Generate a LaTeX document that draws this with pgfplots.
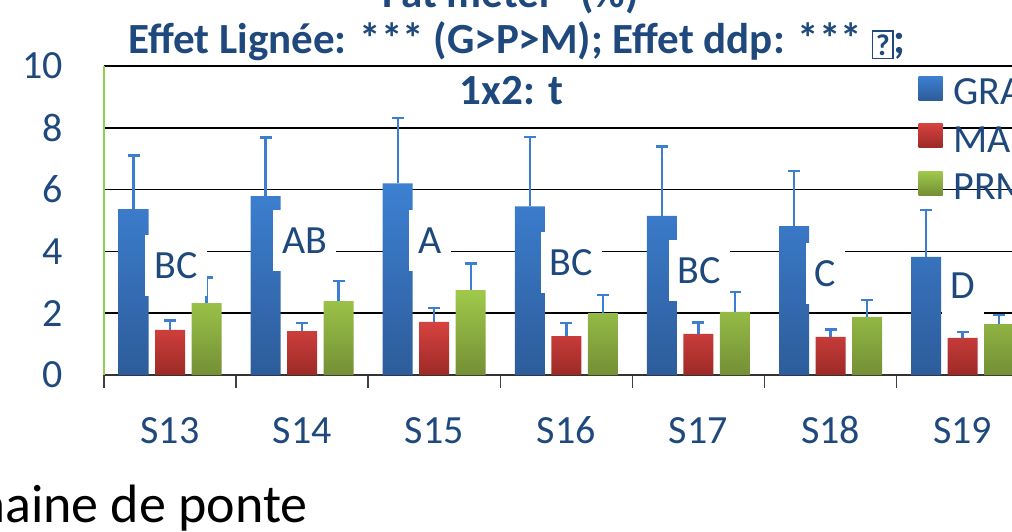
\documentclass[border=0pt]{standalone}
\usepackage{fontspec}
\setmainfont{Carlito}
\usepackage{pgfplots}
\usepackage{pgfplotstable}
\pgfplotsset{compat=1.18}

\definecolor{txtblue}{HTML}{1F497D}
\definecolor{gratop}{HTML}{3D80D2}
\definecolor{grabot}{HTML}{2D5C9A}
\definecolor{magtop}{HTML}{D64240}
\definecolor{magbot}{HTML}{9C2A27}
\definecolor{prmtop}{HTML}{A0C94B}
\definecolor{prmbot}{HTML}{748F35}
\definecolor{errblue}{HTML}{3C7ED0}
\definecolor{axgreen}{HTML}{92D050}

\newcommand{\lblfont}{\fontsize{20}{24}\selectfont}
\newcommand{\ttlfont}{\fontsize{21.5}{26}\selectfont\bfseries}

% semaine, moyenne et ecart-type par lignee
\pgfplotstableread{
x gra graerr mag magerr prm prmerr
0 5.37 1.73 1.46 0.30 2.33 0.82
1 5.79 1.90 1.42 0.26 2.39 0.65
2 6.20 2.11 1.72 0.45 2.75 0.86
3 5.46 2.24 1.26 0.42 2.00 0.59
4 5.15 2.24 1.33 0.37 2.04 0.64
5 4.82 1.78 1.23 0.24 1.88 0.54
6 3.82 1.52 1.20 0.20 1.65 0.30
}\fatdata

\pgfplotsset{
  errplot/.style={forget plot, draw=none, mark=none,
    error bars/.cd, y dir=plus, y explicit,
    error bar style={draw=errblue, line width=1.2pt, xshift=#1},
    error mark=-,
    error mark options={rotate=90, draw=errblue, line width=1.2pt, mark size=3pt}},
}

\begin{document}
\begin{tikzpicture}
\useasboundingbox (-52pt,-78pt) rectangle (454pt,187.5pt);
\clip (-52pt,-78pt) rectangle (454pt,187.5pt);
\begin{axis}[
  at={(0,0)}, anchor=south west,
  scale only axis, width=462.35pt, height=154.5pt,
  xmin=-0.5, xmax=6.5, ymin=0, ymax=10,
  clip=false,
  axis x line*=bottom, axis y line*=left,
  x axis line style={black!80, line width=0.75pt},
  y axis line style={axgreen, line width=0.75pt},
  ymajorgrids, grid style={black, line width=0.75pt},
  ytick={0,2,...,10},
  xtick={0,...,6},
  xticklabels={S13,S14,S15,S16,S17,S18,S19},
  minor xtick={-0.5,0.5,...,6.5},
  tick align=outside,
  major tick length=0pt, minor tick length=6.5pt,
  minor tick style={black!75, line width=0.75pt},
  /pgf/number format/assume math mode=true,
  tick label style={font=\lblfont, text=txtblue},
  yticklabel style={inner sep=0pt, anchor=east, xshift=-20.5pt},
  xticklabel style={inner sep=0pt, anchor=base, yshift=-34pt},
  legend image code/.code={\path[#1] (0pt,-3.85pt) rectangle (12pt,8.15pt);},
  legend style={draw=none, fill=none, inner sep=0pt, outer sep=0pt,
    at={(axis cs:5.666,9.67)}, anchor=north west,
    row sep=9.35pt, column sep=5.5pt,
    nodes={inner sep=0pt, text height=12.4pt, text depth=0pt},
    font=\lblfont, text=txtblue},
  legend cell align=left,
  bar width=15pt,
]
\addplot[ybar, bar shift=-18.25pt, draw=none, top color=gratop, bottom color=grabot]
  table[x=x, y=gra] {\fatdata};
\addplot[ybar, bar shift=0pt, draw=none, top color=magtop, bottom color=magbot]
  table[x=x, y=mag] {\fatdata};
\addplot[ybar, bar shift=18.25pt, draw=none, top color=prmtop, bottom color=prmbot]
  table[x=x, y=prm] {\fatdata};
\legend{GRAS,MAIGRE,PRM}

% barres d'erreur (ecart-type, vers le haut)
\addplot[errplot=-18.25pt] table[x=x, y=gra, y error=graerr] {\fatdata};
\addplot[errplot=0pt] table[x=x, y=mag, y error=magerr] {\fatdata};
\addplot[errplot=18.25pt] table[x=x, y=prm, y error=prmerr] {\fatdata};

% lettres de groupe
\begin{scope}[every node/.style={fill=white, text=txtblue, font=\lblfont,
    inner xsep=4.5pt, inner ysep=0pt, minimum height=30.5pt}]
\node at (axis cs:0.045,3.53) {BC};
\node at (axis cs:1.018,4.34) {AB};
\node at (axis cs:1.968,4.34) {A};
\node at (axis cs:3.036,3.64) {BC};
\node at (axis cs:4.008,3.37) {BC};
\node at (axis cs:4.962,3.27) {C};
\node at (axis cs:6.003,2.88) {D};
\end{scope}

% titre
\node[anchor=base, font=\ttlfont, text=txtblue] at (axis cs:2.578,11.88)
  {Fat meter\textsuperscript{®} (\%)};
\node[anchor=base, font=\ttlfont, text=txtblue] at (axis cs:2.627,10.42)
  {Effet Lignée: *** (G>P>M); Effet ddp: *** {\setlength\fboxsep{1.2pt}\setlength\fboxrule{0.8pt}\raisebox{-1pt}{\fbox{\fontsize{15}{15}\selectfont ?}}};};
\node[anchor=base, font=\ttlfont, text=txtblue] at (axis cs:2.585,8.77) {1x2: t};

\node[anchor=base east, font=\fontsize{27}{32}\selectfont, text=black]
  at (axis cs:1.094,-4.76) {Semaine de ponte};
\end{axis}
\end{tikzpicture}
\end{document}
